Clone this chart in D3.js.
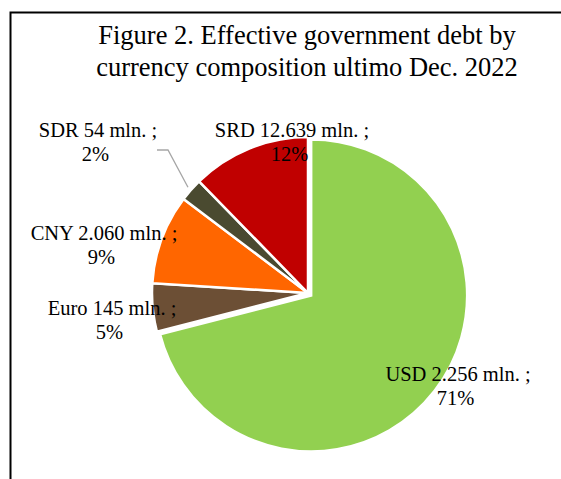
<!DOCTYPE html>
<html>
<head>
<meta charset="utf-8">
<script src="https://cdn.jsdelivr.net/npm/d3@7/dist/d3.min.js"></script>
<style>
  html, body { margin: 0; padding: 0; background: #fff; overflow: hidden; }
  svg { display: block; }
  text { font-family: "Liberation Serif", "Times New Roman", serif; fill: #000; }
</style>
</head>
<body>
<svg id="chart" width="561" height="479"></svg>
<script>
// Currency composition of effective government debt, Dec. 2022
const currencies = ["USD", "Euro", "CNY", "SDR", "SRD"];
const amounts = ["2.256", "145", "2.060", "54", "12.639"];   // mln., as printed
const shares = [71.0, 5.0, 9.3, 2.4, 12.3];                   // % of total
const colors = ["#92D050", "#6C4F35", "#FF6600", "#4A4A30", "#C00000"];
const titleLines = ["Figure 2. Effective government debt by",
                    "currency composition ultimo Dec. 2022"];

const svg = d3.select("#chart");
const W = 561, H = 479;

// chart frame: only the top and left edges fall inside the view
svg.append("path")
  .attr("d", `M10.5,${H}V12.5H${W}`)
  .attr("fill", "none").attr("stroke", "#000").attr("stroke-width", 2);

// title
svg.append("text")
  .attr("text-anchor", "middle")
  .style("font-size", "26.5px")
  .selectAll("tspan").data(titleLines).join("tspan")
  .attr("x", 307)
  .attr("y", (d, i) => 44 + i * 32)
  .text(d => d);

// pie
const cx = 308, cy = 293, R = 156;
const explodeUSD = 4;

const data = currencies.map((c, i) => ({
  name: c, amount: amounts[i], share: shares[i], color: colors[i]
}));

const pie = d3.pie().value(d => d.share).sort(null);
const arc = d3.arc().innerRadius(0).outerRadius(R);
const arcs = pie(data);

const g = svg.append("g").attr("transform", `translate(${cx},${cy})`);

g.selectAll("path.slice").data(arcs).join("path")
  .attr("class", "slice")
  .attr("transform", d => {
    if (d.data.name !== "USD") return null;
    const mid = (d.startAngle + d.endAngle) / 2;
    return `translate(${Math.sin(mid) * explodeUSD},${-Math.cos(mid) * explodeUSD})`;
  })
  .attr("d", arc)
  .attr("fill", d => d.data.color)
  .attr("stroke", "#fff")
  .attr("stroke-width", 2.5)
  .attr("stroke-linejoin", "miter");

// data label placement: first-line baseline relative to pie centre
const labelOffset = {
  USD:  [150, 88],
  Euro: [-196, 22],
  CNY:  [-204, -53],
  SDR:  [-210, -156],
  SRD:  [-16, -156]
};
const lineGap = 23.5;

const labels = svg.append("g").style("font-size", "20.5px").attr("text-anchor", "middle");
arcs.forEach(d => {
  const [dx, dy] = labelOffset[d.data.name];
  const t = labels.append("text");
  t.append("tspan").attr("x", cx + dx).attr("y", cy + dy)
    .text(`${d.data.name} ${d.data.amount} mln. ;`);
  t.append("tspan").attr("x", cx + dx - 2.5).attr("y", cy + dy + lineGap)
    .text(`${Math.round(d.data.share)}%`);
});

// leader line for the small SDR slice
const sdr = arcs.find(d => d.data.name === "SDR");
const sdrMid = (sdr.startAngle + sdr.endAngle) / 2;
const edge = [cx + Math.sin(sdrMid) * (R + 4), cy - Math.cos(sdrMid) * (R + 4)];
const [sdx, sdy] = labelOffset.SDR;
const lp = [
  [cx + sdx + 59, cy + sdy + 13],
  [cx + sdx + 70, cy + sdy + 13],
  edge
];
svg.append("path")
  .attr("d", d3.line()(lp))
  .attr("fill", "none")
  .attr("stroke", "#A6A6A6")
  .attr("stroke-width", 1.3);
</script>
</body>
</html>
